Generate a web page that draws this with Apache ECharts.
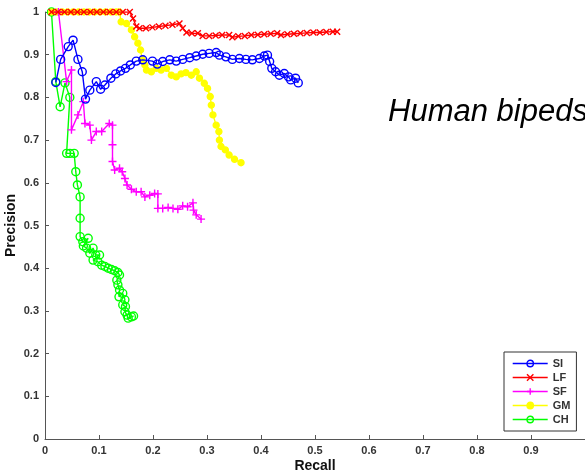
<!DOCTYPE html>
<html>
<head>
<meta charset="utf-8">
<script src="https://cdn.jsdelivr.net/npm/echarts@6/dist/echarts.min.js"></script>
<style>
  html, body { margin: 0; padding: 0; background: #fff; }
  #chart { width: 585px; height: 473px; }
</style>
</head>
<body>
<div id="chart"></div>
<script>
// recall / precision per method
const siRecall = [0.020, 0.029, 0.043, 0.052, 0.061, 0.069, 0.075, 0.083, 0.095, 0.103, 0.111, 0.122, 0.131, 0.140, 0.149, 0.158, 0.169, 0.181, 0.199, 0.208, 0.218, 0.231, 0.243, 0.255, 0.268, 0.280, 0.292, 0.304, 0.317, 0.323, 0.335, 0.347, 0.360, 0.372, 0.384, 0.397, 0.406, 0.412, 0.416, 0.420, 0.427, 0.434, 0.443, 0.451, 0.455, 0.464, 0.469]
const siPrecision = [0.835, 0.889, 0.919, 0.934, 0.889, 0.860, 0.796, 0.817, 0.837, 0.819, 0.829, 0.845, 0.855, 0.862, 0.868, 0.876, 0.885, 0.888, 0.885, 0.878, 0.884, 0.888, 0.885, 0.889, 0.893, 0.897, 0.901, 0.903, 0.905, 0.899, 0.895, 0.889, 0.891, 0.889, 0.888, 0.891, 0.897, 0.899, 0.884, 0.868, 0.860, 0.852, 0.856, 0.848, 0.841, 0.845, 0.834]

const lfRecall = [0.012, 0.024, 0.036, 0.048, 0.060, 0.072, 0.084, 0.096, 0.108, 0.120, 0.132, 0.144, 0.157, 0.163, 0.169, 0.175, 0.187, 0.199, 0.211, 0.223, 0.236, 0.249, 0.255, 0.262, 0.272, 0.283, 0.292, 0.304, 0.316, 0.328, 0.341, 0.347, 0.358, 0.370, 0.382, 0.394, 0.406, 0.418, 0.430, 0.437, 0.449, 0.461, 0.473, 0.485, 0.497, 0.509, 0.521, 0.533, 0.541]
const lfPrecision = [1, 1, 1, 1, 1, 1, 1, 1, 1, 1, 1, 1, 1, 0.985, 0.966, 0.962, 0.962, 0.964, 0.966, 0.968, 0.970, 0.973, 0.962, 0.952, 0.950, 0.950, 0.944, 0.944, 0.945, 0.946, 0.946, 0.941, 0.943, 0.944, 0.946, 0.947, 0.948, 0.949, 0.950, 0.946, 0.948, 0.949, 0.950, 0.951, 0.952, 0.952, 0.953, 0.954, 0.954]

const sfRecall = [0.025, 0.040, 0.049, 0.049, 0.061, 0.071, 0.074, 0.083, 0.086, 0.095, 0.105, 0.119, 0.125, 0.125, 0.125, 0.129, 0.138, 0.143, 0.148, 0.152, 0.160, 0.169, 0.178, 0.185, 0.194, 0.203, 0.209, 0.209, 0.218, 0.228, 0.237, 0.246, 0.255, 0.264, 0.274, 0.275, 0.280, 0.289]
const sfPrecision = [1.0, 0.837, 0.864, 0.724, 0.759, 0.790, 0.739, 0.735, 0.700, 0.720, 0.720, 0.739, 0.735, 0.689, 0.650, 0.630, 0.634, 0.626, 0.610, 0.595, 0.585, 0.579, 0.579, 0.567, 0.571, 0.575, 0.574, 0.540, 0.540, 0.542, 0.540, 0.538, 0.546, 0.544, 0.553, 0.536, 0.525, 0.515]

const gmRecall = [0.012, 0.022, 0.032, 0.042, 0.052, 0.062, 0.072, 0.082, 0.092, 0.102, 0.112, 0.122, 0.132, 0.138, 0.141, 0.151, 0.160, 0.166, 0.172, 0.177, 0.180, 0.185, 0.188, 0.197, 0.206, 0.215, 0.225, 0.234, 0.243, 0.252, 0.261, 0.271, 0.280, 0.286, 0.295, 0.301, 0.306, 0.308, 0.311, 0.317, 0.322, 0.323, 0.326, 0.334, 0.341, 0.351, 0.363]
const gmPrecision = [1, 1, 1, 1, 1, 1, 1, 1, 1, 1, 1, 1, 1, 1, 0.977, 0.973, 0.958, 0.942, 0.927, 0.911, 0.889, 0.876, 0.864, 0.860, 0.868, 0.864, 0.868, 0.852, 0.848, 0.855, 0.858, 0.852, 0.860, 0.845, 0.833, 0.821, 0.802, 0.782, 0.759, 0.735, 0.720, 0.700, 0.685, 0.677, 0.665, 0.655, 0.647]

const chRecall = [0.012, 0.020, 0.028, 0.037, 0.046, 0.040, 0.046, 0.054, 0.057, 0.060, 0.065, 0.065, 0.065, 0.070, 0.080, 0.071, 0.077, 0.083, 0.089, 0.094, 0.101, 0.089, 0.098, 0.105, 0.111, 0.117, 0.123, 0.129, 0.135, 0.138, 0.133, 0.135, 0.138, 0.137, 0.144, 0.148, 0.144, 0.149, 0.148, 0.152, 0.154, 0.160, 0.164]
const chPrecision = [1.0, 0.837, 0.778, 0.834, 0.800, 0.669, 0.669, 0.669, 0.626, 0.595, 0.567, 0.517, 0.474, 0.462, 0.470, 0.452, 0.447, 0.435, 0.447, 0.431, 0.431, 0.419, 0.415, 0.407, 0.404, 0.400, 0.397, 0.394, 0.390, 0.384, 0.372, 0.361, 0.349, 0.333, 0.341, 0.326, 0.314, 0.310, 0.298, 0.290, 0.283, 0.286, 0.288]

const methods = ['SI', 'LF', 'SF', 'GM', 'CH']
const colors = ['#0000ff', '#ff0000', '#ff00ff', '#ffff00', '#00ff00']
const xTicks = ['0', '0.1', '0.2', '0.3', '0.4', '0.5', '0.6', '0.7', '0.8', '0.9']

const zip = (xs, ys) => xs.map((x, i) => [x, ys[i]])
const seriesData = [
  zip(siRecall, siPrecision),
  zip(lfRecall, lfPrecision),
  zip(sfRecall, sfPrecision),
  zip(gmRecall, gmPrecision),
  zip(chRecall, chPrecision)
]

const markers = [
  { symbol: 'circle', size: 8, fill: 'rgba(0,0,0,0)' },
  { symbol: 'path://M0,0L10,10M0,10L10,0', size: 6, fill: 'rgba(0,0,0,0)' },
  { symbol: 'path://M5,0L5,10M0,5L10,5', size: 8, fill: 'rgba(0,0,0,0)' },
  { symbol: 'circle', size: 6, fill: null },
  { symbol: 'circle', size: 8, fill: 'rgba(0,0,0,0)' }
]

const font = 'Liberation Sans, Arial, sans-serif'

const chart = echarts.init(document.getElementById('chart'))

const series = methods.map((name, i) => ({
  name,
  type: 'line',
  data: seriesData[i],
  symbol: markers[i].symbol,
  symbolSize: markers[i].size,
  showSymbol: true,
  lineStyle: { color: colors[i], width: 1.4 },
  itemStyle: {
    color: markers[i].fill || colors[i],
    borderColor: colors[i],
    borderWidth: 1.4
  },
  emphasis: { disabled: true },
  z: 2 + (4 - i)
}))

chart.setOption({
  animation: false,
  grid: { left: 45, right: 0, top: 12, bottom: 34, outerBoundsMode: 'none' },
  xAxis: {
    type: 'value',
    min: 0,
    max: 1,
    interval: 0.1,
    name: 'Recall',
    nameLocation: 'middle',
    nameGap: 20,
    nameMoveOverlap: false,
    nameTextStyle: { fontFamily: font, fontWeight: 'bold', fontSize: 14, color: '#111' },
    splitLine: { show: false },
    axisLine: { lineStyle: { color: '#555', width: 1 } },
    axisTick: { inside: true, length: 4, lineStyle: { color: '#555' } },
    axisLabel: {
      margin: 6,
      showMaxLabel: false,
      fontFamily: font, fontWeight: 'bold', fontSize: 11, color: '#333',
      formatter: v => xTicks[Math.round(v * 10)] || ''
    }
  },
  yAxis: {
    type: 'value',
    min: 0,
    max: 1,
    interval: 0.1,
    name: 'Precision',
    nameLocation: 'middle',
    nameGap: 27,
    nameMoveOverlap: false,
    nameTextStyle: { fontFamily: font, fontWeight: 'bold', fontSize: 14, color: '#111' },
    splitLine: { show: false },
    axisLine: { show: true, lineStyle: { color: '#555', width: 1 } },
    axisTick: { show: true, inside: true, length: 4, lineStyle: { color: '#555' } },
    axisLabel: {
      margin: 6,
      fontFamily: font, fontWeight: 'bold', fontSize: 11, color: '#333'
    }
  },
  legend: {
    orient: 'vertical',
    left: 504,
    top: 352,
    padding: [6, 6, 6, 8],
    itemWidth: 35,
    itemHeight: 8,
    itemGap: 3,
    backgroundColor: '#fff',
    borderColor: '#333',
    borderWidth: 1,
    textStyle: { fontFamily: font, fontWeight: 'bold', fontSize: 11, color: '#333' },
    data: methods.map((name, i) => ({
      name,
      itemStyle: { color: markers[i].fill || colors[i], borderColor: colors[i], borderWidth: 1.4 },
      lineStyle: { color: colors[i], width: 1.4 }
    }))
  },
  graphic: [{
    type: 'text',
    left: 388,
    top: 97,
    style: {
      text: 'Human bipeds',
      font: 'italic 31px ' + font,
      fill: '#000',
      shadowColor: 'rgba(0,0,0,0.35)',
      shadowBlur: 2,
      shadowOffsetX: 2,
      shadowOffsetY: 2
    }
  }],
  series
})
</script>
</body>
</html>
